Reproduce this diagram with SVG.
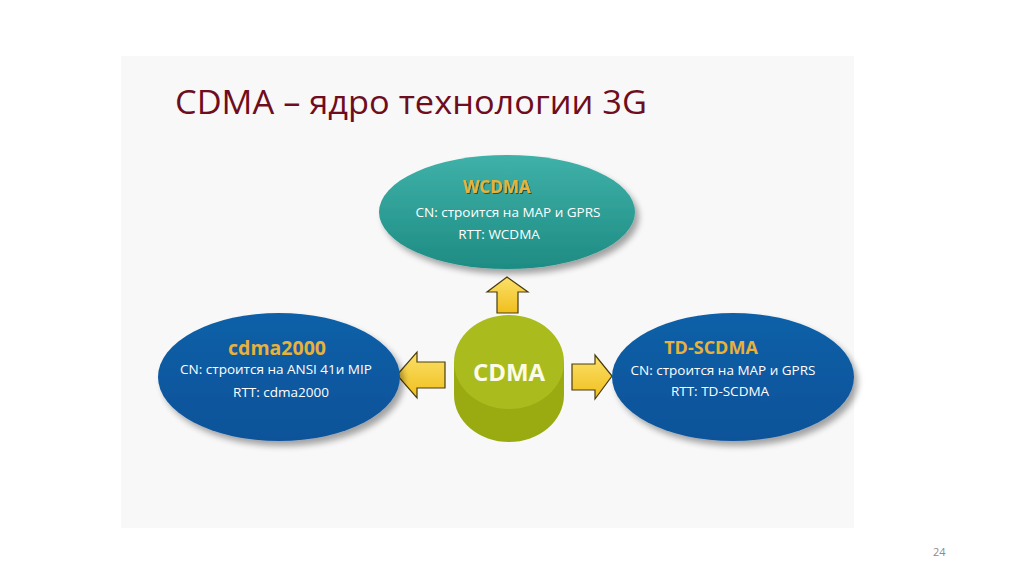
<svg xmlns="http://www.w3.org/2000/svg" width="1024" height="576" viewBox="0 0 1024 576">
<defs>
<style>
.title{font-family:"Open Sans","Noto Sans","DejaVu Sans",sans-serif;font-size:33px;fill:#6e0d1d}
.hd{font-family:"Open Sans","Noto Sans",sans-serif;font-weight:bold;fill:#e8b23a;text-anchor:middle}
.tx{font-family:"Open Sans","Noto Sans",sans-serif;fill:#ffffff;font-size:13.5px;text-anchor:middle}
.arrow{fill:url(#ag);stroke:#4a3c10;stroke-width:1.2;stroke-linejoin:miter}
.num{font-family:"Open Sans","Noto Sans",sans-serif;font-size:11px;fill:#8c8c8c}
</style>
<filter id="sh" x="-20%" y="-20%" width="150%" height="150%">
<feGaussianBlur in="SourceAlpha" stdDeviation="3"/>
<feOffset dx="4" dy="5" result="b"/>
<feComponentTransfer><feFuncA type="linear" slope="0.35"/></feComponentTransfer>
<feMerge><feMergeNode/><feMergeNode in="SourceGraphic"/></feMerge>
</filter>
<filter id="ts" x="-10%" y="-10%" width="130%" height="140%">
<feOffset in="SourceAlpha" dx="1" dy="1" result="o"/>
<feComponentTransfer in="o"><feFuncA type="linear" slope="0.5"/></feComponentTransfer>
<feMerge><feMergeNode/><feMergeNode in="SourceGraphic"/></feMerge>
</filter>
<linearGradient id="tg" x1="0" y1="0" x2="0" y2="1">
<stop offset="0" stop-color="#3fb1a8"/><stop offset="1" stop-color="#1e8c83"/>
</linearGradient>
<linearGradient id="bg" x1="0" y1="0" x2="0" y2="1">
<stop offset="0" stop-color="#0f60a8"/><stop offset="1" stop-color="#0b5399"/>
</linearGradient>
<linearGradient id="ag" x1="0" y1="0" x2="0" y2="1">
<stop offset="0" stop-color="#fbe06a"/><stop offset="1" stop-color="#f0bf1c"/>
</linearGradient>
</defs>
<rect x="0" y="0" width="1024" height="576" fill="#ffffff"/>
<rect x="121" y="56" width="733" height="472" fill="#f8f8f8"/>
<text class="title" x="175" y="114" textLength="472" lengthAdjust="spacingAndGlyphs">CDMA – ядро технологии 3G</text>

<g id="connectors">
<path class="arrow" d="M507,277 L528,292 L518,292 L518,313 L497,313 L497,292 L487,292 Z"/>
<path class="arrow" d="M397,375 L417,352 L417,362 L445,362 L445,388 L417,388 L417,398 Z"/>
<path class="arrow" d="M612,376 L595,355 L595,364 L572,364 L572,390 L595,390 L595,399 Z"/>
</g>

<g id="wcdma">
<ellipse cx="507" cy="212" rx="128" ry="57" fill="url(#tg)" filter="url(#sh)"/>
<text class="hd" x="497" y="193" font-size="17" filter="url(#ts)">WCDMA</text>
<text class="tx" x="508" y="217">CN: строится на MAP и GPRS</text>
<text class="tx" x="499" y="239">RTT:  WCDMA</text>
</g>

<g id="cdma2000">
<ellipse cx="279" cy="377" rx="121" ry="64" fill="url(#bg)" filter="url(#sh)"/>
<text class="hd" x="277" y="355" font-size="19.5">cdma2000</text>
<text class="tx" x="276" y="374">CN: строится на ANSI 41и MIP</text>
<text class="tx" x="281" y="397">RTT: cdma2000</text>
</g>

<g id="tdscdma">
<ellipse cx="733" cy="377" rx="121" ry="64" fill="url(#bg)" filter="url(#sh)"/>
<text class="hd" x="711" y="354" font-size="18">TD-SCDMA</text>
<text class="tx" x="723" y="375">CN: строится на MAP и GPRS</text>
<text class="tx" x="720" y="396">RTT: TD-SCDMA</text>
</g>

<g id="cdma">
<path d="M454,362 L454,395 A55,47 0 0 0 564,395 L564,362 Z" fill="#9aab12"/>
<ellipse cx="509" cy="362" rx="55" ry="47" fill="#aabb1e"/>
<text x="509" y="381" text-anchor="middle" font-family="Open Sans, Noto Sans, sans-serif" font-weight="bold" font-size="24" fill="#fbfbe8">CDMA</text>
</g>

<text class="num" x="933" y="556">24</text>
</svg>
